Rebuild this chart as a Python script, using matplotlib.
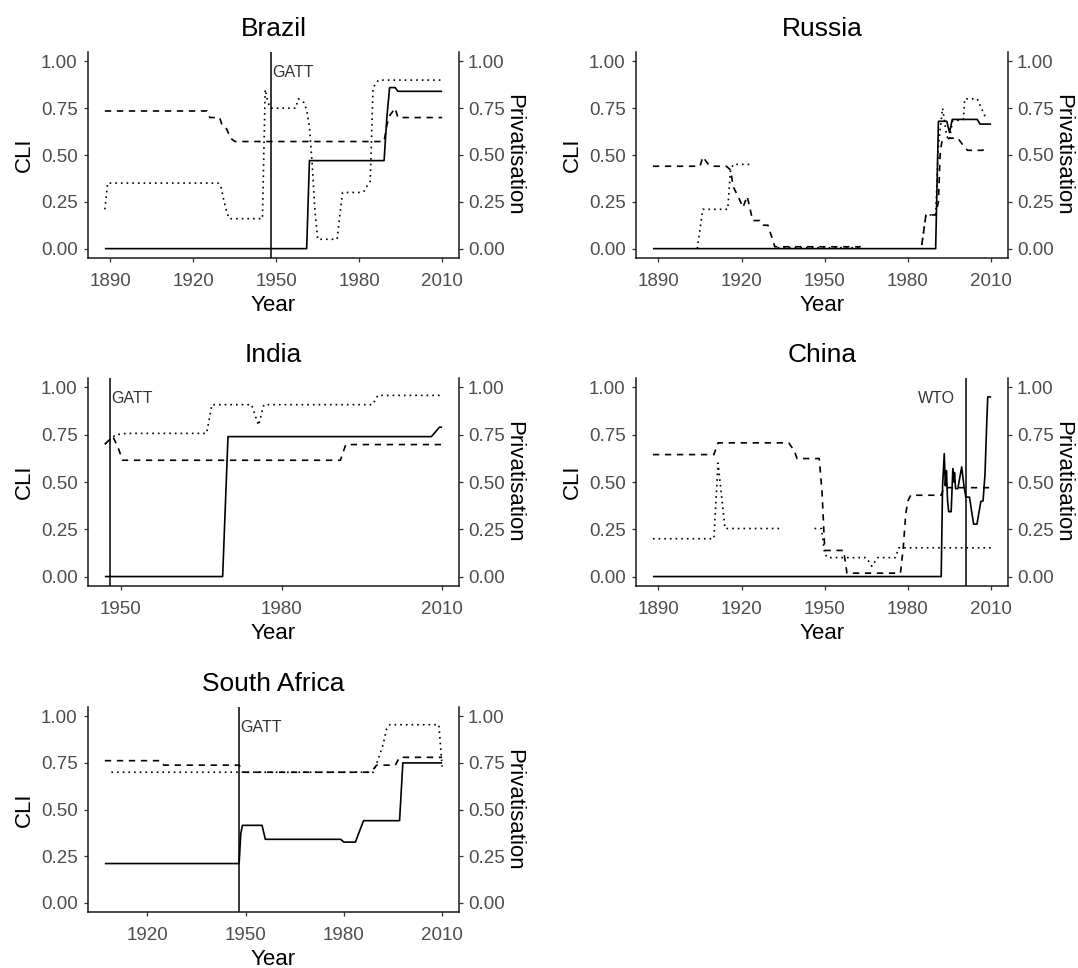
import numpy as np
import matplotlib
matplotlib.use("Agg")
import matplotlib.pyplot as plt

plt.rcParams['font.family'] = ['Liberation Sans', 'DejaVu Sans']

nan = np.nan

# ---------------- data ----------------
# Brazil
brazil_solid_year = [1888, 1961, 1962, 1989, 1990, 1991, 1993, 1994, 2010]
brazil_solid_value = [0, 0, 0.47, 0.47, 0.70, 0.86, 0.86, 0.84, 0.84]
brazil_dashed_year = [1888, 1925, 1926, 1929.5, 1930.5, 1932, 1933.5, 1935, 1989, 1990, 1991, 1993, 1994, 2010]
brazil_dashed_value = [0.735, 0.735, 0.70, 0.70, 0.655, 0.64, 0.59, 0.572, 0.572, 0.66, 0.71, 0.75, 0.70, 0.70]
brazil_dotted_year = [1888, 1889, 1929, 1930, 1931, 1932, 1933, 1945, 1946, 1947, 1948, 1957, 1958, 1960, 1961,
                      1962, 1963, 1964, 1965, 1972, 1973, 1974, 1981, 1982, 1983, 1984, 1985, 1987, 2010]
brazil_dotted_value = [0.21, 0.35, 0.35, 0.33, 0.26, 0.20, 0.16, 0.16, 0.85, 0.78, 0.75, 0.75, 0.80, 0.78, 0.74,
                       0.65, 0.45, 0.20, 0.05, 0.05, 0.18, 0.30, 0.30, 0.31, 0.34, 0.36, 0.86, 0.90, 0.90]

# Russia
russia_solid_year = [1888, 1990, 1991, 1994, 1995, 1996, 2005, 2006, 2010]
russia_solid_value = [0, 0, 0.68, 0.68, 0.62, 0.69, 0.69, 0.665, 0.665]
russia_dashed_year = [1888, 1905, 1906, 1908, 1909, 1914.5, 1916, 1917, 1919, 1920.5, 1922, 1924, 1926.5,
                      1927.5, 1929.5, 1932, 1963, nan, 1985, 1986.5, 1990, 1991, 1991.6, 1992.2, 1995, 1998,
                      2000, 2001.5, 2007, 2008]
russia_dashed_value = [0.44, 0.44, 0.49, 0.45, 0.44, 0.44, 0.42, 0.33, 0.27, 0.22, 0.28, 0.15, 0.15,
                       0.125, 0.125, 0.01, 0.01, nan, 0.02, 0.18, 0.18, 0.25, 0.50, 0.57, 0.59, 0.59,
                       0.55, 0.525, 0.525, 0.54]
russia_dotted_year = [1904, 1906, 1915, 1916, 1917, 1923, nan, 1933, 1963, nan, 1985, 1986.5, 1990, 1991,
                      1992.5, 1994, 1995, 1996, 2000, 2000.5, 2005, 2008]
russia_dotted_value = [0, 0.21, 0.21, 0.42, 0.45, 0.45, nan, 0.005, 0.005, nan, 0.02, 0.18, 0.18, 0.55,
                       0.75, 0.60, 0.58, 0.68, 0.69, 0.80, 0.80, 0.70]

# India
india_solid_year = [1947, 1969, 1970, 2008, 2009.5, 2010]
india_solid_value = [0, 0, 0.74, 0.74, 0.79, 0.79]
india_dashed_year = [1947, 1948.5, 1949.5, 1950.3, 1991, 1992, 2010]
india_dashed_value = [0.70, 0.74, 0.68, 0.615, 0.615, 0.698, 0.698]
india_dotted_year = [1947, 1949, 1951, 1966, 1967, 1974.4, 1975.7, 1976.7, 1997, 1998, 2010]
india_dotted_value = [0.70, 0.75, 0.757, 0.757, 0.909, 0.909, 0.80, 0.909, 0.909, 0.958, 0.958]

# China
china_solid_year = [1888, 1992, 1992.5, 1993.1, 1993.5, 1993.9, 1994.3, 1994.7, 1995.6, 1996.2, 1996.6,
                    1996.8, 1997.2, 1998, 1999.4, 2000.2, 2000.9, 2002.2, 2003.7, 2004.9, 2006.3, 2007.1,
                    2007.8, 2008.4, 2008.8, 2010]
china_solid_value = [0, 0, 0.48, 0.65, 0.48, 0.56, 0.40, 0.343, 0.343, 0.57, 0.50, 0.55, 0.465, 0.465,
                     0.58, 0.48, 0.42, 0.42, 0.277, 0.277, 0.397, 0.40, 0.54, 0.80, 0.95, 0.95]
china_dashed_year = [1888, 1910, 1911.5, 1937, 1939, 1940, 1948, 1949, 1950, 1956.8, 1958, 1977.3, 1978.3,
                     1979.2, 1980, 1981, 1992, 1993, 2010]
china_dashed_value = [0.645, 0.645, 0.707, 0.707, 0.665, 0.624, 0.624, 0.45, 0.138, 0.138, 0.018, 0.018,
                      0.15, 0.33, 0.40, 0.43, 0.43, 0.47, 0.47]
china_dotted_year = [1888, 1910, 1911.5, 1914, 1934.5, nan, 1946.3, 1948.8, 1950, 1951, 1965, 1967, 1969,
                     1975.5, 1976.7, 2010]
china_dotted_value = [0.20, 0.20, 0.60, 0.254, 0.254, nan, 0.254, 0.254, 0.12, 0.10, 0.10, 0.054, 0.10,
                      0.10, 0.152, 0.152]

# South Africa
safrica_solid_year = [1907, 1948, 1948.5, 1949, 1955, 1956, 1979, 1980, 1983.5, 1986, 1997, 1998, 2010]
safrica_solid_value = [0.21, 0.21, 0.37, 0.415, 0.415, 0.34, 0.34, 0.325, 0.325, 0.44, 0.44, 0.75, 0.75]
safrica_dashed_year = [1907, 1924, 1925, 1948, 1949.5, 1988.3, 1990, 1995.7, 1997, 2010]
safrica_dashed_value = [0.762, 0.762, 0.738, 0.738, 0.70, 0.70, 0.738, 0.738, 0.78, 0.78]
safrica_dotted_year = [1909, 1989, 1990.5, 1992, 1993, 1994, 2009, 2010]
safrica_dotted_value = [0.70, 0.70, 0.77, 0.85, 0.93, 0.955, 0.955, 0.73]

# event markers
event_brazil = (1948, "GATT")
event_india = (1948, "GATT")
event_china = (2001, "WTO")
event_safrica = (1948, "GATT")

y_ticks = [0, 0.25, 0.5, 0.75, 1.0]

# ---------------- layout ----------------
W, H = 1078, 968
fig = plt.figure(figsize=(W / 100, H / 100), dpi=100)

panels = [
    dict(title="Brazil", box=(88, 52, 459, 258), ticks=[1890, 1920, 1950, 1980, 2010],
         series=[(brazil_solid_year, brazil_solid_value), (brazil_dashed_year, brazil_dashed_value),
                 (brazil_dotted_year, brazil_dotted_value)], event=event_brazil, ev_side="right"),
    dict(title="Russia", box=(636, 52, 1008, 258), ticks=[1890, 1920, 1950, 1980, 2010],
         series=[(russia_solid_year, russia_solid_value), (russia_dashed_year, russia_dashed_value),
                 (russia_dotted_year, russia_dotted_value)], event=None),
    dict(title="India", box=(88, 378, 459, 586), ticks=[1950, 1980, 2010],
         series=[(india_solid_year, india_solid_value), (india_dashed_year, india_dashed_value),
                 (india_dotted_year, india_dotted_value)], event=event_india, ev_side="right"),
    dict(title="China", box=(636, 378, 1008, 586), ticks=[1890, 1920, 1950, 1980, 2010],
         series=[(china_solid_year, china_solid_value), (china_dashed_year, china_dashed_value),
                 (china_dotted_year, china_dotted_value)], event=event_china, ev_side="left"),
    dict(title="South Africa", box=(88, 707, 459, 912), ticks=[1920, 1950, 1980, 2010],
         series=[(safrica_solid_year, safrica_solid_value), (safrica_dashed_year, safrica_dashed_value),
                 (safrica_dotted_year, safrica_dotted_value)], event=event_safrica, ev_side="right"),
]

styles = [
    dict(linestyle='-'),
    dict(linestyle=(0, (3.8, 3.4))),
    dict(linestyle=(0, (1.0, 2.4))),
]

tick_grey = '#4D4D4D'
axis_col = '#1a1a1a'

for p in panels:
    l, t, r, b = p["box"]
    ax = fig.add_axes([l / W, 1 - b / H, (r - l) / W, (b - t) / H])
    allx = np.concatenate([np.asarray(s[0], float) for s in p["series"]])
    lo, hi = np.nanmin(allx), np.nanmax(allx)
    pad = 0.05 * (hi - lo)
    ax.set_xlim(lo - pad, hi + pad)
    ax.set_ylim(-0.05, 1.05)

    for (xs, ys), st in zip(p["series"], styles):
        ax.plot(xs, ys, color='black', lw=1.2, solid_capstyle='butt',
                dash_capstyle='butt', **st)

    if p["event"] is not None:
        ex, label = p["event"]
        ax.axvline(ex, color='black', lw=1.1)
        if p["ev_side"] == "right":
            ax.annotate(label, xy=(ex, 0.94), xytext=(1, 0), textcoords='offset points',
                        ha='left', va='center', fontsize=11.5, color='#333333')
        else:
            ax.annotate(label, xy=(ex, 0.94), xytext=(-8, 0), textcoords='offset points',
                        ha='right', va='center', fontsize=11.5, color='#333333')

    ax.set_xticks(p["ticks"])
    ax.set_yticks(y_ticks)
    ax.set_yticklabels([f"{v:.2f}" for v in y_ticks])
    for s in ['top', 'right']:
        ax.spines[s].set_visible(False)
    for s in ['left', 'bottom']:
        ax.spines[s].set_linewidth(1.1)
        ax.spines[s].set_color(axis_col)
    ax.tick_params(axis='both', length=3.0, width=0.9, color='#333333',
                   labelcolor=tick_grey, labelsize=13.5)
    ax.tick_params(axis='x', pad=7.5)
    ax.tick_params(axis='y', pad=4.5)

    ax2 = ax.twinx()
    ax2.set_ylim(-0.05, 1.05)
    ax2.set_yticks(y_ticks)
    ax2.set_yticklabels([f"{v:.2f}" for v in y_ticks])
    for s in ['top', 'left', 'bottom']:
        ax2.spines[s].set_visible(False)
    ax2.spines['right'].set_linewidth(1.1)
    ax2.spines['right'].set_color(axis_col)
    ax2.tick_params(axis='y', length=3.0, width=0.9, color='#333333',
                    labelcolor=tick_grey, labelsize=13.5, pad=3.5)

    # titles and axis titles
    cx = (l + r) / 2
    fig.text(cx / W, 1 - (t - 16) / H, p["title"], ha='center', va='baseline', fontsize=19, color='black')
    fig.text(cx / W, 1 - (b + 53) / H, "Year", ha='center', va='baseline', fontsize=16, color='black')
    cy = (t + b) / 2
    fig.text((l - 64) / W, 1 - cy / H, "CLI", ha='center', va='center', rotation=90, fontsize=16)
    fig.text((r + 55) / W, 1 - cy / H, "Privatisation", ha='center', va='center', rotation=270, fontsize=16)

fig.savefig("out.png", dpi=100, facecolor='white')
